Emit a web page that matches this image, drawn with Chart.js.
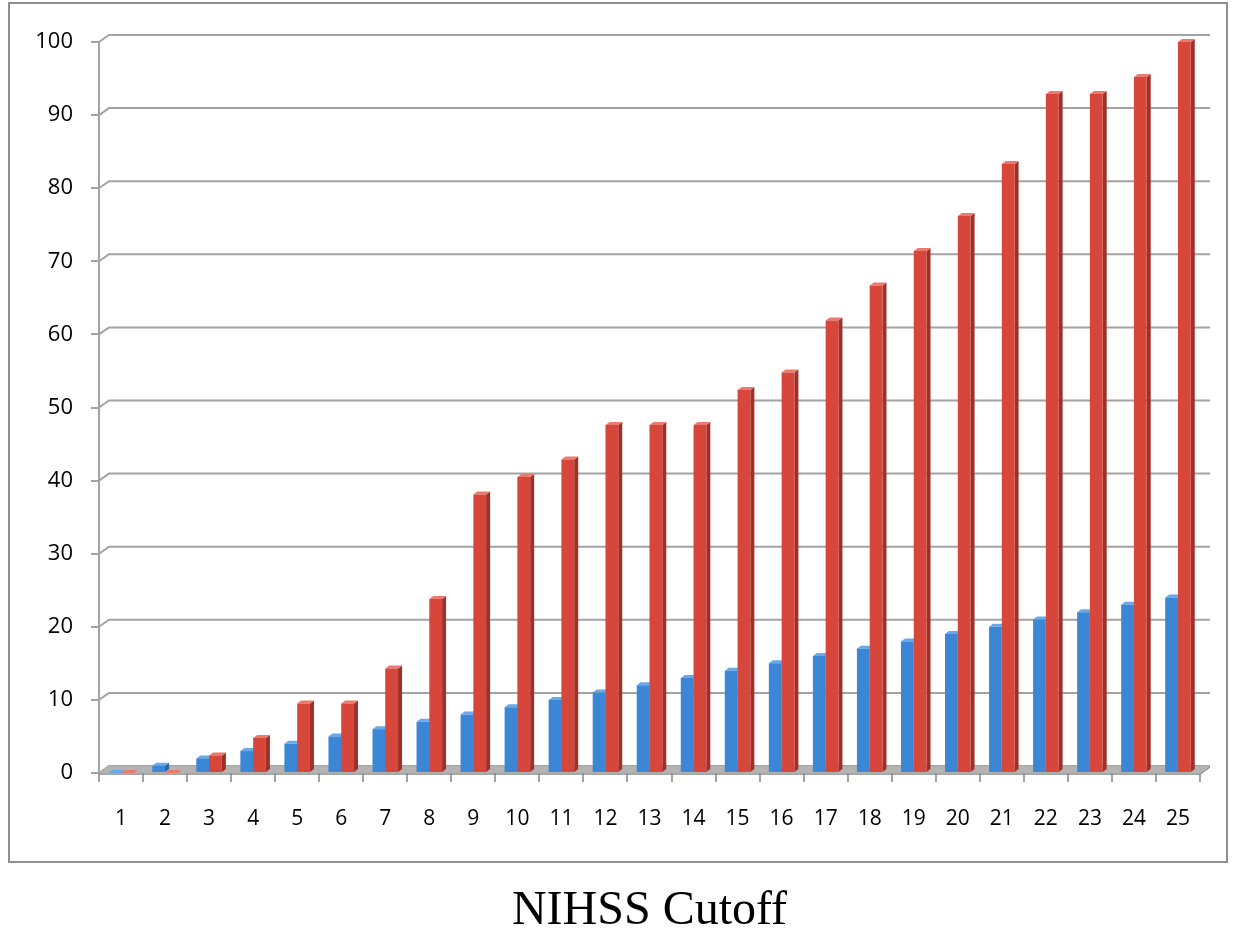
<!DOCTYPE html>
<html>
<head>
<meta charset="utf-8">
<script src="https://cdn.jsdelivr.net/npm/chart.js@4.4.1/dist/chart.umd.min.js"></script>
<style>
  html, body { margin: 0; padding: 0; background: #fff; }
  #wrap { width: 1233px; height: 934px; }
</style>
</head>
<body>
<div id="wrap"><canvas id="chart" width="1233" height="934"></canvas></div>
<script>
// NIHSS cutoff categories
const cutoffs = ["1", "2", "3", "4", "5", "6", "7", "8", "9", "10", "11", "12", "13",
  "14", "15", "16", "17", "18", "19", "20", "21", "22", "23", "24", "25"];

// blue series (grows by one per cutoff)
const blueValues = [0, 1, 2, 3, 4, 5, 6, 7, 8, 9, 10, 11, 12,
  13, 14, 15, 16, 17, 18, 19, 20, 21, 22, 23, 24];

// red series (percent)
const redValues = [0, 0, 2.4, 4.8, 9.5, 9.5, 14.3, 23.8, 38.1, 40.5, 42.9, 47.6, 47.6,
  47.6, 52.4, 54.8, 61.9, 66.7, 71.4, 76.2, 83.3, 92.9, 92.9, 95.2, 100];

const yTicks = [0, 10, 20, 30, 40, 50, 60, 70, 80, 90, 100];

const blueFace = ["#3b87d6", "#2a609e", "#6aa8e8"]; // front, side, top
const redFace = ["#d6463a", "#a12f27", "#ea7a6e"];

const GRID = "#a3a3a3";
const wallDx = 10, wallDy = 7;   // back wall offset
const barDx = 4, barDy = 3;      // bar depth

// outer frame of the chart box
const framePlugin = {
  id: "frame",
  beforeDraw(chart) {
    const ctx = chart.ctx;
    ctx.save();
    ctx.strokeStyle = "#8f8f8f";
    ctx.lineWidth = 2;
    ctx.strokeRect(9, 3, 1218, 859);
    ctx.restore();
  },
};

// fake 3d: back wall gridlines, floor and bar sides/tops
const depthPlugin = {
  id: "depth",
  beforeDatasetsDraw(chart) {
    const ctx = chart.ctx;
    const area = chart.chartArea;
    const yScale = chart.scales.y;
    ctx.save();

    // gridlines going back to the wall
    ctx.strokeStyle = GRID;
    ctx.lineWidth = 2;
    yTicks.forEach((v) => {
      const y = yScale.getPixelForValue(v);
      ctx.beginPath();
      ctx.moveTo(area.left, y);
      ctx.lineTo(area.left + wallDx, y - wallDy);
      ctx.lineTo(area.right + wallDx, y - wallDy);
      ctx.stroke();
    });

    // floor
    const b = yScale.getPixelForValue(0);
    ctx.fillStyle = "#b3b3b3";
    ctx.beginPath();
    ctx.moveTo(area.left, b);
    ctx.lineTo(area.right, b);
    ctx.lineTo(area.right + wallDx, b - wallDy);
    ctx.lineTo(area.left + wallDx, b - wallDy);
    ctx.closePath();
    ctx.fill();
    ctx.strokeStyle = "#8a8a8a";
    ctx.lineWidth = 1.5;
    ctx.beginPath();
    ctx.moveTo(area.left, b + 1);
    ctx.lineTo(area.right, b + 1);
    ctx.lineTo(area.right + wallDx, b - wallDy + 1);
    ctx.stroke();

    // bar sides and tops, blue then red per category
    const faces = [blueFace, redFace];
    for (let i = 0; i < cutoffs.length; i++) {
      chart.data.datasets.forEach((ds, d) => {
        const bar = chart.getDatasetMeta(d).data[i];
        const l = bar.x - bar.width / 2;
        const r = bar.x + bar.width / 2;
        const top = bar.y;
        const base = bar.base;

        ctx.fillStyle = faces[d][1];
        ctx.beginPath();
        ctx.moveTo(r, top);
        ctx.lineTo(r + barDx, top - barDy);
        ctx.lineTo(r + barDx, base - barDy);
        ctx.lineTo(r, base);
        ctx.closePath();
        ctx.fill();

        ctx.fillStyle = faces[d][2];
        ctx.beginPath();
        ctx.moveTo(l, top);
        ctx.lineTo(l + barDx, top - barDy);
        ctx.lineTo(r + barDx, top - barDy);
        ctx.lineTo(r, top);
        ctx.closePath();
        ctx.fill();
      });
    }
    ctx.restore();
  },
};

new Chart(document.getElementById("chart"), {
  type: "bar",
  data: {
    labels: cutoffs,
    datasets: [
      { data: blueValues, backgroundColor: blueFace[0], borderWidth: 0 },
      { data: redValues, backgroundColor: redFace[0], borderWidth: 0 },
    ],
  },
  options: {
    responsive: false,
    animation: false,
    layout: { padding: { left: 0, top: 42, right: 33, bottom: 0 } },
    datasets: {
      bar: { categoryPercentage: 0.58, barPercentage: 1 },
    },
    plugins: {
      legend: { display: false },
      tooltip: { enabled: false },
    },
    scales: {
      x: {
        afterFit(scale) { scale.height = 934 - 773; },
        grid: { drawOnChartArea: false, drawTicks: true, tickLength: 9, color: GRID, lineWidth: 2 },
        border: { display: false },
        ticks: {
          padding: 24,
          color: "#000",
          font: { family: "Open Sans", size: 21 },
          maxRotation: 0,
          autoSkip: false,
        },
        title: {
          display: true,
          text: "NIHSS Cutoff",
          color: "#000",
          font: { family: "Liberation Serif", size: 48, lineHeight: 0.8 },
          padding: { top: 0, bottom: 3 },
        },
      },
      y: {
        min: 0,
        max: 100,
        afterFit(scale) { scale.width = 99; },
        afterBuildTicks(scale) { scale.ticks = yTicks.map((v) => ({ value: v })); },
        grid: { drawOnChartArea: false, drawTicks: true, tickLength: 8, color: GRID, lineWidth: 2 },
        border: { display: true, color: GRID, width: 2 },
        ticks: {
          padding: 18,
          color: "#000",
          font: { family: "Open Sans", size: 22 },
        },
      },
    },
  },
  plugins: [framePlugin, depthPlugin],
});
</script>
</body>
</html>
